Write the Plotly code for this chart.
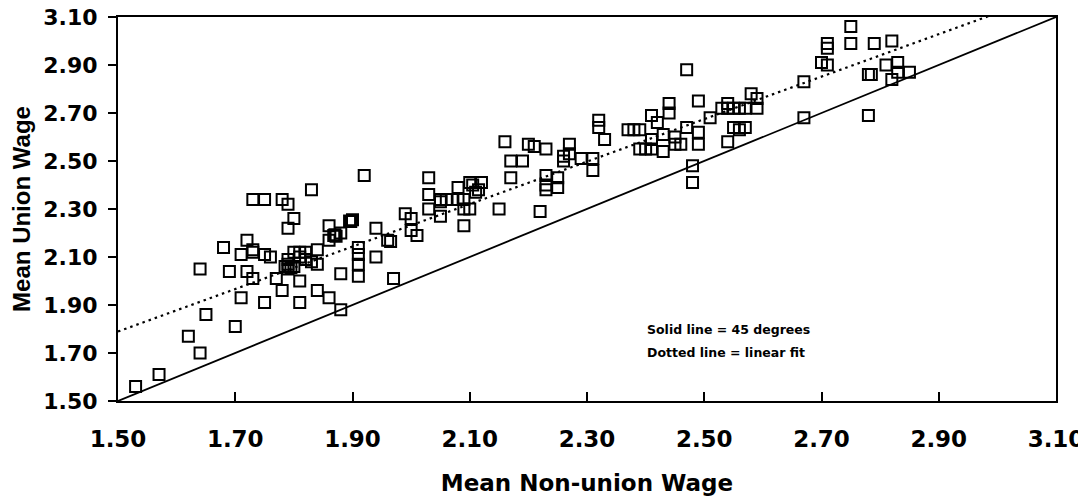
import numpy as np
import plotly.graph_objects as go

# Mean non-union wage (x) and mean union wage (y)
nonunion = [
    1.53, 1.57, 1.64, 1.62, 1.65, 1.70, 1.64, 1.68, 1.69, 1.71,
    1.75, 1.78, 1.81, 1.81, 1.77, 1.73, 1.72, 1.72, 1.73, 1.71,
    1.73, 1.75, 1.76, 1.73, 1.75, 1.78, 1.79, 1.80, 1.79, 1.83,
    1.79, 1.80, 1.81, 1.81, 1.79, 1.79, 1.80, 1.785, 1.795, 1.84,
    1.83, 1.84, 1.84, 1.86, 1.88, 1.82, 1.82, 1.92, 1.895, 1.90,
    1.897, 1.86, 1.868, 1.872, 1.87, 1.86, 1.88, 1.91, 1.91, 1.91,
    1.91, 1.88, 1.94, 1.96, 1.965, 1.99, 2.00, 2.00, 2.01, 1.94,
    1.97, 2.03, 2.03, 2.03, 2.05, 2.05, 2.06, 2.07, 2.08, 2.09,
    2.08, 2.10, 2.12, 2.11, 2.115, 2.105, 2.05, 2.09, 2.10, 2.09,
    2.15, 2.16, 2.17, 2.19, 2.17, 2.22, 2.20, 2.21, 2.23, 2.27,
    2.26, 2.26, 2.29, 2.31, 2.31, 2.23, 2.23, 2.23, 2.25, 2.25,
    2.27, 2.32, 2.32, 2.33, 2.38, 2.39, 2.37, 2.41, 2.42, 2.44,
    2.44, 2.43, 2.41, 2.39, 2.40, 2.43, 2.41, 2.45, 2.47, 2.49,
    2.47, 2.51, 2.49, 2.49, 2.46, 2.45, 2.48, 2.48, 2.54, 2.53,
    2.54, 2.55, 2.56, 2.58, 2.59, 2.59, 2.57, 2.55, 2.56, 2.57,
    2.54, 2.67, 2.67, 2.70, 2.71, 2.75, 2.75, 2.79, 2.82, 2.71,
    2.71, 2.78, 2.785, 2.81, 2.83, 2.83, 2.82, 2.85, 2.78,
]
union = [
    1.56, 1.61, 1.70, 1.77, 1.86, 1.81, 2.05, 2.14, 2.04, 1.93,
    1.91, 1.96, 1.91, 2.00, 2.01, 2.01, 2.04, 2.17, 2.13, 2.11,
    2.12, 2.11, 2.10, 2.34, 2.34, 2.34, 2.32, 2.26, 2.22, 2.38,
    2.05, 2.12, 2.12, 2.10, 2.09, 2.07, 2.06, 2.06, 2.055, 2.13,
    2.08, 2.07, 1.96, 1.93, 1.88, 2.09, 2.12, 2.44, 2.25, 2.255,
    2.248, 2.23, 2.19, 2.186, 2.193, 2.17, 2.20, 2.14, 2.11, 2.07,
    2.02, 2.03, 2.22, 2.17, 2.165, 2.28, 2.26, 2.21, 2.19, 2.10,
    2.01, 2.43, 2.36, 2.30, 2.33, 2.34, 2.34, 2.34, 2.34, 2.34,
    2.39, 2.41, 2.41, 2.37, 2.38, 2.40, 2.27, 2.30, 2.30, 2.23,
    2.30, 2.58, 2.50, 2.50, 2.43, 2.29, 2.57, 2.56, 2.55, 2.57,
    2.52, 2.50, 2.51, 2.51, 2.46, 2.44, 2.40, 2.38, 2.43, 2.39,
    2.53, 2.67, 2.64, 2.59, 2.63, 2.63, 2.63, 2.69, 2.66, 2.74,
    2.70, 2.61, 2.59, 2.55, 2.55, 2.54, 2.55, 2.57, 2.88, 2.75,
    2.64, 2.68, 2.62, 2.57, 2.57, 2.60, 2.48, 2.41, 2.74, 2.72,
    2.72, 2.72, 2.72, 2.78, 2.76, 2.72, 2.72, 2.64, 2.63, 2.64,
    2.58, 2.68, 2.83, 2.91, 2.90, 3.06, 2.99, 2.99, 3.00, 2.99,
    2.97, 2.86, 2.86, 2.90, 2.91, 2.87, 2.84, 2.87, 2.69,
]

# Linear fit as drawn in the reference
fit_slope = 0.885
fit_intercept = 0.462

tick_values = [1.50, 1.70, 1.90, 2.10, 2.30, 2.50, 2.70, 2.90, 3.10]
axis_range = [1.50, 3.10]
note_lines = ["Solid line = 45 degrees", "Dotted line = linear fit"]

x = np.array(nonunion)
y = np.array(union)
line_x = np.array(axis_range)

FONT = "DejaVu Sans"
fig = go.Figure()
fig.add_trace(go.Scatter(
    x=line_x, y=line_x, mode="lines",
    line=dict(color="black", width=1.8), hoverinfo="skip", showlegend=False,
))
fig.add_trace(go.Scatter(
    x=line_x, y=fit_intercept + fit_slope * line_x, mode="lines",
    line=dict(color="black", width=2.2, dash="2.5px,4px"), hoverinfo="skip", showlegend=False,
))
fig.add_trace(go.Scatter(
    x=x, y=y, mode="markers",
    marker=dict(symbol="square-open", size=11, color="black", line=dict(width=2, color="black")),
    showlegend=False,
))

for i, txt in enumerate(note_lines):
    fig.add_annotation(
        x=2.399, y=1.80 - i * 0.096, xref="x", yref="y", text=txt, showarrow=False,
        xanchor="left", yanchor="middle",
        font=dict(family=FONT, size=12.5, color="black", weight="bold"),
    )

fig.update_xaxes(
    range=axis_range, tickvals=tick_values, tickformat=".2f", automargin=False,
    showline=True, linecolor="black", linewidth=2, mirror=True,
    ticks="inside", ticklen=9, tickwidth=2, tickcolor="black",
    showgrid=False, zeroline=False, ticklabelstandoff=16, ticklabeloverflow="allow",
    tickfont=dict(family=FONT, size=23, color="black", weight="bold"),
    title=dict(text="Mean Non-union Wage", standoff=24,
               font=dict(family=FONT, size=23, color="black", weight="bold")),
)
fig.update_yaxes(
    range=axis_range, tickvals=tick_values, tickformat=".2f", automargin=False,
    showline=True, linecolor="black", linewidth=2, mirror=True,
    ticks="outside", ticklen=8, tickwidth=2, tickcolor="black",
    showgrid=False, zeroline=False, ticklabelstandoff=6, ticklabeloverflow="allow",
    tickfont=dict(family=FONT, size=22, color="black", weight="bold"),
    title=dict(text="Mean Union Wage", standoff=10,
               font=dict(family="Liberation Sans", size=24, color="black", weight="bold")),
)
# page body adds an 8px offset; size and margins compensate for it
fig.update_layout(
    width=1078, height=495,
    margin=dict(l=110, r=30, t=9, b=102),
    plot_bgcolor="white", paper_bgcolor="white",
)
fig.write_html("out.html")
